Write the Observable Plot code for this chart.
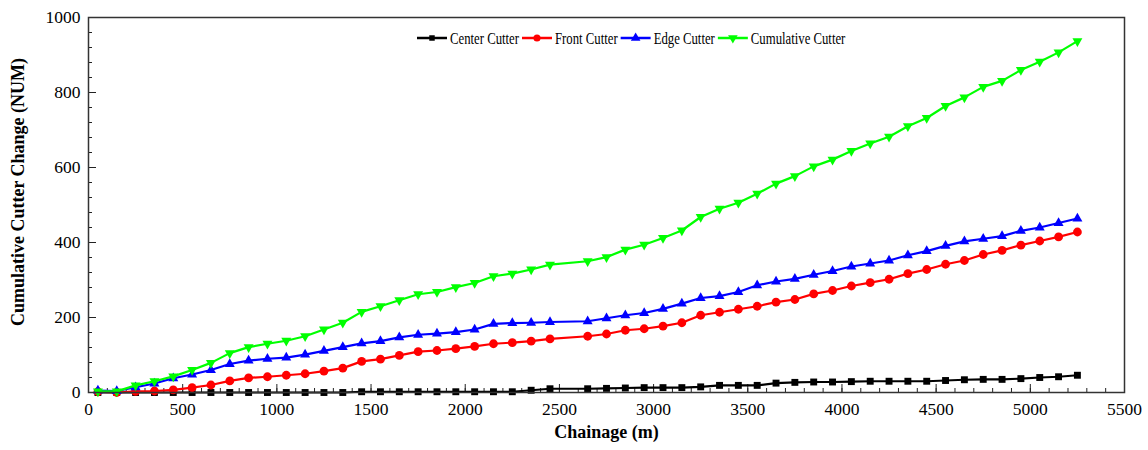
<!DOCTYPE html>
<html><head><meta charset="utf-8">
<script src="https://cdn.jsdelivr.net/npm/d3@7"></script>
<script src="https://cdn.jsdelivr.net/npm/@observablehq/plot@0.6"></script>
<style>body{margin:0;background:#fff} svg{display:block}</style>
</head><body><div id="chart"></div>
<script>
const chainage = [50,150,250,350,450,550,650,750,850,950,1050,1150,1250,1350,1450,1550,1650,1750,1850,1950,2050,2150,2250,2350,2450,
  2650,2750,2850,2950,3050,3150,3250,3350,3450,3550,3650,3750,3850,3950,4050,4150,4250,4350,4450,4550,4650,4750,4850,4950,5050,5150,5250];
const centerCutter = [0,0,0,0,0,0,0,0,0,0,0,0,0,0,2,2,2,2,2,2,2,2,2,6,10,
  10,11,12,13,13,13,15,19,19,19,25,27,28,28,29,30,30,30,30,32,34,35,35,37,40,42,46];
const frontCutter = [2,0,3,4,7,13,20,31,39,42,46,50,57,65,83,89,99,109,112,117,123,130,133,137,143,
  150,156,166,170,177,186,206,214,222,230,241,248,263,272,284,293,302,317,328,342,352,368,379,393,404,415,428];
const edgeCutter = [5,4,14,24,38,48,60,76,85,90,93,101,111,121,131,137,147,154,157,161,168,183,185,186,188,
  190,198,206,212,223,237,252,257,268,286,296,303,314,324,336,344,352,366,377,391,403,410,417,431,440,452,464];
const cumulativeCutter = [3,3,19,30,43,60,79,105,121,130,138,150,168,186,215,230,246,262,268,281,292,310,317,328,341,
  350,361,381,394,412,432,468,490,506,530,557,577,603,621,644,664,682,710,732,764,787,815,831,860,882,907,937];

const seriesNames = ["Center Cutter", "Front Cutter", "Edge Cutter", "Cumulative Cutter"];
const seriesValues = [centerCutter, frontCutter, edgeCutter, cumulativeCutter];
const seriesColors = ["#000000", "#ff0000", "#0000ff", "#00ff00"];

const xTicks = [0,500,1000,1500,2000,2500,3000,3500,4000,4500,5000,5500];
const yTicks = [0,200,400,600,800,1000];

const downTriangle = {
  draw(context, size) {
    const y = -Math.sqrt(size / (Math.sqrt(3) * 3));
    context.moveTo(0, -y * 2);
    context.lineTo(-Math.sqrt(3) * y, y);
    context.lineTo(Math.sqrt(3) * y, y);
    context.closePath();
  }
};
const seriesSymbols = [d3.symbolSquare, d3.symbolCircle, d3.symbolTriangle, downTriangle];
const seriesR = [3.9, 4.4, 3.7, 3.7];

const font = "'Liberation Serif', 'Times New Roman', serif";
const fmt = d => String(d);

const marks = [];
seriesNames.forEach((name, i) => {
  const rows = chainage.map((c, j) => ({x: c, y: seriesValues[i][j]}));
  marks.push(Plot.line(rows, {x: "x", y: "y", stroke: seriesColors[i], strokeWidth: 2.2}));
  marks.push(Plot.dot(rows, {x: "x", y: "y", fill: seriesColors[i], stroke: "none", symbol: seriesSymbols[i], r: seriesR[i]}));
});

const chart = Plot.plot({
  width: 1148, height: 450,
  marginLeft: 88, marginRight: 24, marginTop: 17, marginBottom: 58,
  style: {fontFamily: font, fontSize: "17.5px", color: "#000", background: "#fff"},
  x: {domain: [0, 5500]},
  y: {domain: [0, 1000]},
  marks: [
    Plot.axisX({ticks: d3.range(0, 5501, 100), tickSize: -4, fill: "none", label: null, stroke: "#222"}),
    Plot.axisX({ticks: xTicks, tickSize: -8, fill: "none", label: null, stroke: "#222"}),
    Plot.axisX({ticks: xTicks, tickSize: 0, tickPadding: 10, tickFormat: fmt, fontSize: 17.5, label: null, fill: "#000"}),
    Plot.axisY({ticks: d3.range(0, 1001, 40), tickSize: -4, fill: "none", label: null, stroke: "#222"}),
    Plot.axisY({ticks: yTicks, tickSize: -8, fill: "none", label: null, stroke: "#222"}),
    Plot.axisY({ticks: yTicks, tickSize: 0, tickPadding: 8, tickFormat: fmt, fontSize: 17.5, label: null, fill: "#000"}),
    ...marks,
    Plot.frame({stroke: "#333", strokeWidth: 1.5}),
    Plot.text(["Cumulative Cutter Change (NUM)"], {frameAnchor: "left", dx: -70.5, dy: -13, rotate: -90, textAnchor: "middle", fontWeight: "bold", fontSize: 18, fill: "#000"}),
    Plot.text(["Chainage (m)"], {frameAnchor: "bottom", dy: 45, textAnchor: "middle", fontWeight: "bold", fontSize: 18, fill: "#000"})
  ]
});
document.getElementById("chart").appendChild(chart);

// legend inside the plot, top right
const g = d3.select(chart).append("g")
  .style("font-family", font).style("font-size", "17px").attr("text-anchor", "start");
let x0 = 417;
const yL = 38;
const legendSizes = [30, 40, 40, 40];
seriesNames.forEach((name, i) => {
  g.append("line").attr("x1", x0).attr("x2", x0 + 30).attr("y1", yL).attr("y2", yL)
    .attr("stroke", seriesColors[i]).attr("stroke-width", 2.5);
  g.append("path").attr("d", d3.symbol(seriesSymbols[i], legendSizes[i])())
    .attr("transform", `translate(${x0 + 15},${yL})`).attr("fill", seriesColors[i]);
  const t = g.append("text").attr("transform", `translate(${x0 + 33},${yL}) scale(0.75,1)`)
    .attr("dy", "0.35em").attr("text-anchor", "start").attr("fill", "#000").text(name);
  const w = t.node().getComputedTextLength() * 0.75;
  x0 = x0 + 33 + w + 3;
});
</script></body></html>
